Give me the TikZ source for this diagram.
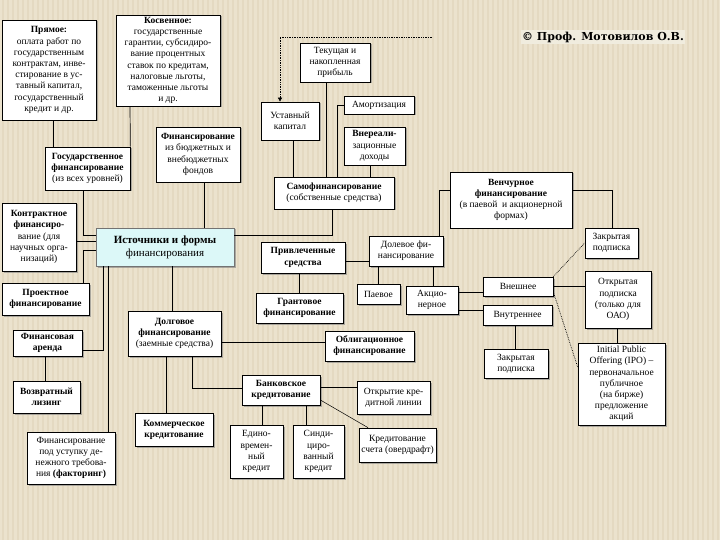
\documentclass[tikz,border=0pt]{standalone}
\usepackage{fontspec}
\setmainfont{Liberation Serif}
\newfontfamily\titlefont{DejaVu Serif}
\usetikzlibrary{shadows,arrows.meta}
\definecolor{bgbeige}{RGB}{235,226,205}
\definecolor{bgstripe}{RGB}{228,217,193}
\definecolor{cyanfill}{RGB}{220,248,248}
\definecolor{titlebg}{RGB}{240,236,222}
\tikzset{
  bx/.style={draw=black, line width=0.7pt, fill=white, align=center, inner sep=1pt,
    font=\fontsize{9.5}{11.2}\selectfont,
    drop shadow={shadow xshift=1.5pt, shadow yshift=-1.5pt, fill=black!50, opacity=0.6}},
  conn/.style={draw=black, line width=0.7pt},
  dots/.style={draw=black, line width=0.7pt, densely dotted}
}
\begin{document}
\begin{tikzpicture}[x=1pt,y=-1pt]
\useasboundingbox (0,0) rectangle (720,540);
\fill[bgbeige] (0,0) rectangle (720,540);
\foreach \xx in {2,7,...,720} {\fill[bgstripe] (\xx,0) rectangle (\xx+1.6,540);}

% title
\node[fill=titlebg, inner sep=1.5pt, font=\titlefont\bfseries\fontsize{11}{13}\selectfont] (title) at (603,37) {© Проф. Мотовилов О.В.};

% boxes
\node[bx, minimum width=94, minimum height=100] (pr) at (49,70) {\textbf{Прямое:}\\ оплата работ по\\ государственным\\ контрактам, инве-\\ стирование в ус-\\ тавный капитал,\\ государственный\\ кредит и др.};
\node[bx, minimum width=104, minimum height=91] (ko) at (168,60.5) {\textbf{Косвенное:}\\ государственные\\ гарантии, субсидиро-\\ вание процентных\\ ставок по кредитам,\\ налоговые льготы,\\ таможенные льготы\\ и др.};
\node[bx, minimum width=70, minimum height=39] (tek) at (335,62.5) {Текущая и\\ накопленная\\ прибыль};
\node[bx, minimum width=58, minimum height=38] (ust) at (290,121) {Уставный\\ капитал};
\node[bx, minimum width=70, minimum height=18] (am) at (379,105) {Амортизация};
\node[bx, minimum width=61, minimum height=38] (vnr) at (374.5,146) {\textbf{Внереали-}\\ зационные\\ доходы};
\node[bx, minimum width=84, minimum height=55] (fbud) at (198,154.5) {\textbf{Финансирование}\\ из бюджетных и\\ внебюджетных\\ фондов};
\node[bx, minimum width=85, minimum height=43] (gos) at (87.5,168.5) {\textbf{Государственное}\\ \textbf{финансирование}\\ (из всех уровней)};
\node[bx, minimum width=120, minimum height=32] (samo) at (334,193) {\textbf{Самофинансирование}\\ (собственные средства)};
\node[bx, minimum width=122, minimum height=56] (ven) at (511,200) {\textbf{Венчурное}\\ \textbf{финансирование}\\ (в паевой~~и акционерной\\ формах)};
\node[bx, minimum width=74, minimum height=68] (kon) at (39,237) {\textbf{Контрактное}\\ \textbf{финансиро-}\\ вание (для\\ научных орга-\\ низаций)};
\node[bx, draw=black!55, fill=cyanfill, minimum width=138, minimum height=38, font=\fontsize{11}{13}\selectfont] (ist) at (165,247) {\textbf{Источники и формы}\\ финансирования};
\node[bx, minimum width=84, minimum height=31] (pri) at (303,257.5) {\textbf{Привлеченные}\\ \textbf{средства}};
\node[bx, minimum width=74, minimum height=30] (dol) at (406,251) {Долевое фи-\\ нансирование};
\node[bx, minimum width=53, minimum height=30] (zp1) at (611.5,243) {Закрытая\\ подписка};
\node[bx, minimum width=70, minimum height=19] (vnesh) at (518,286.5) {Внешнее};
\node[bx, minimum width=66, minimum height=57] (otkr) at (618,299.5) {Открытая\\ подписка\\ (только для\\ ОАО)};
\node[bx, minimum width=43, minimum height=20] (pae) at (378.5,294) {Паевое};
\node[bx, minimum width=52, minimum height=28] (akc) at (432,300) {Акцио-\\ нерное};
\node[bx, minimum width=87, minimum height=32] (proj) at (45.5,299) {\textbf{Проектное}\\ \textbf{финансирование}};
\node[bx, minimum width=87, minimum height=30] (grant) at (299.5,308) {\textbf{Грантовое}\\ \textbf{финансирование}};
\node[bx, minimum width=69, minimum height=20] (vnut) at (517.5,315) {Внутреннее};
\node[bx, minimum width=93, minimum height=45] (dolg) at (174.5,333.5) {\textbf{Долговое}\\ \textbf{финансирование}\\ (заемные средства)};
\node[bx, minimum width=89, minimum height=30] (obl) at (369.5,346) {\textbf{Облигационное}\\ \textbf{финансирование}};
\node[bx, minimum width=69, minimum height=26] (fa) at (47.5,343) {\textbf{Финансовая}\\ \textbf{аренда}};
\node[bx, minimum width=64, minimum height=29] (zp2) at (516,363.5) {Закрытая\\ подписка};
\node[bx, minimum width=87, minimum height=82] (ipo) at (621.5,384) {Initial Public\\ Offering (IPO) –\\ первоначальное\\ публичное\\ (на бирже)\\ предложение\\ акций};
\node[bx, minimum width=67, minimum height=32] (voz) at (46.5,397) {\textbf{Возвратный}\\ \textbf{лизинг}};
\node[bx, minimum width=78, minimum height=30] (bank) at (281,390) {\textbf{Банковское}\\ \textbf{кредитование}};
\node[bx, minimum width=73, minimum height=33] (otkl) at (393.5,397.5) {Открытие кре-\\ дитной линии};
\node[bx, minimum width=78, minimum height=33] (kom) at (174,429.5) {\textbf{Коммерческое}\\ \textbf{кредитование}};
\node[bx, minimum width=88, minimum height=52] (fakt) at (71,458) {Финансирование\\ под уступку де-\\ нежного требова-\\ ния \textbf{(факторинг)}};
\node[bx, minimum width=53, minimum height=53] (edin) at (256.5,451.5) {Едино-\\ времен-\\ ный\\ кредит};
\node[bx, minimum width=51, minimum height=53] (sind) at (318.5,451.5) {Синди-\\ циро-\\ ванный\\ кредит};
\node[bx, minimum width=77, minimum height=34] (kred) at (397.5,445) {Кредитование\\ счета (овердрафт)};

\coordinate (dotend) at (432,37);

% connectors
\draw[conn] (pr.south -| 53,0) -- (gos.north -| 53,0);
\draw[conn] (ko.south -| 130,0) -- (gos.north east);
\draw[conn] (gos.south -| 83,0) |- (ist.west |- 0,235);
\draw[conn] (kon.east |- 0,241) -- (ist.west |- 0,241);
\draw[conn] (proj.north -| 83,0) |- (ist.west |- 0,250);
\draw[conn] (fbud.south -| 204,0) -- (ist.north -| 204,0);
\draw[conn] (ist.south -| 103,0) |- (fa.east |- 0,350);
\draw[conn] (ist.south -| 108,0) -- (fakt.north -| 108,0);
\draw[conn] (ist.south -| 172,0) -- (dolg.north -| 172,0);
\draw[conn] (samo.south -| 332,0) |- (ist.east |- 0,235);
\draw[conn] (ust.south -| 293,0) -- (samo.north -| 293,0);
\draw[conn] (tek.south -| 326,0) -- (samo.north -| 326,0);
\draw[conn] (am.west) -| (samo.north -| 337,0);
\draw[conn] (vnr.south -| 370,0) -- (samo.north -| 370,0);
\draw[dots, -{Triangle[width=4pt,length=4pt]}] (dotend) -| (ust.north -| 280,0);
\draw[conn] (dol.north -| 439,0) |- (ven.west |- 0,190);
\draw[conn] (ven.east |- 0,190) -| (zp1.north -| 612,0);
\draw[conn] (pri.east |- 0,261) -- (dol.west |- 0,261);
\draw[conn] (pri.south -| 299,0) -- (grant.north -| 299,0);
\draw[conn] (dol.south -| 378,0) -- (pae.north -| 378,0);
\draw[conn] (dol.south -| 433,0) -- (akc.north -| 433,0);
\draw[conn] (akc.east |- 0,292) -- (vnesh.west |- 0,292);
\draw[conn] (akc.east |- 0,310) -- (vnut.west |- 0,310);
\draw[dots] (vnesh.north east) -- (zp1.west);
\draw[dots] (vnesh.east |- 0,292) -- (ipo.west |- 0,367);
\draw[conn] (vnesh.east |- 0,286) -- (otkr.west |- 0,286);
\draw[conn] (otkr.south -| 617,0) -- (ipo.north -| 617,0);
\draw[conn] (vnut.south -| 515,0) -- (zp2.north -| 515,0);
\draw[conn] (dolg.east |- 0,342) -- (obl.west |- 0,342);
\draw[conn] (dolg.south -| 166,0) -- (kom.north -| 166,0);
\draw[conn] (dolg.south -| 192,0) |- (bank.west |- 0,388);
\draw[conn] (fa.south -| 45,0) -- (voz.north -| 45,0);
\draw[conn] (bank.east |- 0,387) -- (otkl.west |- 0,387);
\draw[conn, line width=0.5pt] (bank.east |- 0,400) -- (kred.north -| 368,0);
\draw[conn] (bank.south -| 262,0) -- (edin.north -| 262,0);
\draw[conn] (bank.south -| 306,0) -- (sind.north -| 306,0);
\end{tikzpicture}
\end{document}
